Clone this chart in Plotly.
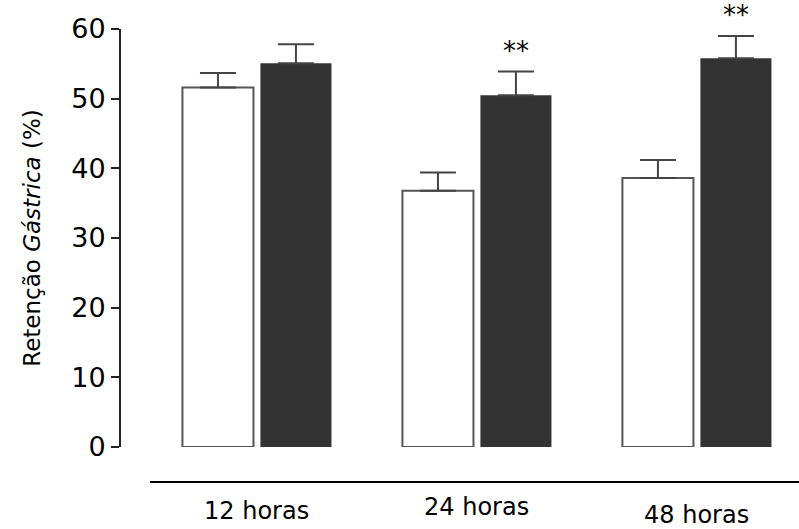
import plotly.graph_objects as go

categories = ["12 horas", "24 horas", "48 horas"]
control = [51.6, 36.8, 38.6]
control_err = [2.1, 2.6, 2.6]
treated = [55.1, 50.5, 55.8]
treated_err = [2.7, 3.4, 3.2]
significance = ["", "**", "**"]
label_shift = [0, 4, -4]  # small vertical offsets of category labels as in the original
y_ticks = [0, 10, 20, 30, 40, 50, 60]

FONT = "DejaVu Sans"

fig = go.Figure()
fig.add_trace(go.Bar(
    x=categories, y=control,
    marker=dict(color="white", line=dict(color="#555555", width=2)),
    error_y=dict(type="data", array=control_err, arrayminus=[0]*3, symmetric=False,
                 color="#444444", thickness=2, width=18),
    showlegend=False,
))
fig.add_trace(go.Bar(
    x=categories, y=treated,
    marker=dict(color="#333333", line=dict(color="#333333", width=0)),
    error_y=dict(type="data", array=treated_err, arrayminus=[0]*3, symmetric=False,
                 color="#444444", thickness=2, width=18),
    showlegend=False,
))

annotations = []
for i, c in enumerate(categories):
    if significance[i]:
        annotations.append(dict(
            x=i + 0.177, y=treated[i] + treated_err[i], xref="x", yref="y",
            text=significance[i], showarrow=False, yanchor="bottom", yshift=4,
            font=dict(family=FONT, size=26, color="black")))
    annotations.append(dict(
        x=i, y=0, xref="x", yref="y", text=c, showarrow=False,
        yanchor="middle", yshift=-64 + label_shift[i],
        font=dict(family=FONT, size=24, color="black")))

fig.update_layout(
    width=799, height=529,
    margin=dict(l=121, r=0, t=29, b=82),
    paper_bgcolor="white", plot_bgcolor="white",
    barmode="group", bargap=0.291, bargroupgap=0.089,
    font=dict(family=FONT, color="black"),
    xaxis=dict(range=[-0.618, 2.464], showticklabels=False, showline=False,
               showgrid=False, zeroline=False, ticks=""),
    yaxis=dict(range=[0, 60], tickvals=y_ticks, showline=True, linecolor="#222222",
               linewidth=2, ticks="outside", ticklen=8, tickwidth=2, tickcolor="#222222",
               showgrid=False, zeroline=False,
               tickfont=dict(family=FONT, size=27, color="black"),
               title=dict(text="Retenção <i>Gástrica</i> (%)", standoff=24,
                          font=dict(family=FONT, size=23, color="black"))),
    annotations=annotations,
    shapes=[dict(type="line", xref="paper", yref="paper",
                 x0=(150 - 121) / 678, x1=1, y0=-35 / 418, y1=-35 / 418,
                 line=dict(color="black", width=2))],
)

fig.write_html("out.html")
